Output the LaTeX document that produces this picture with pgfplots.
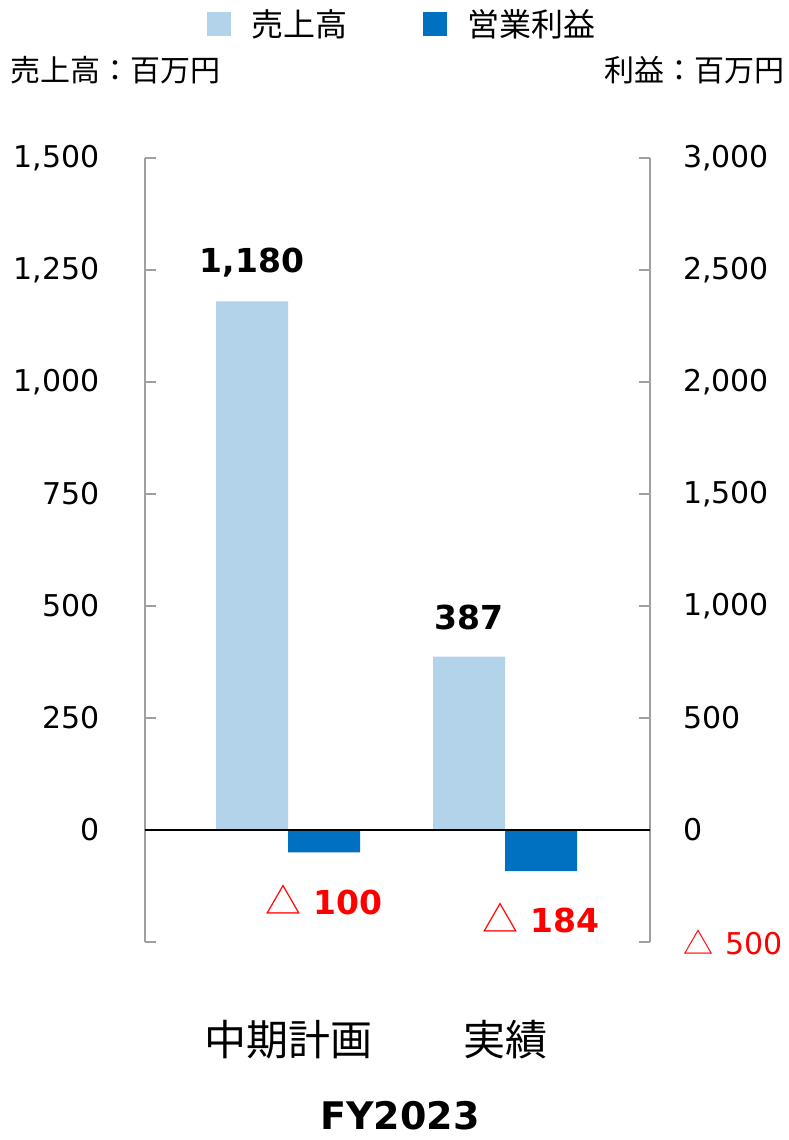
\documentclass[border=0pt]{standalone}
\usepackage{pgfplots}
\pgfplotsset{compat=1.18}
\usepackage{fontspec}
\setmainfont{DejaVu Sans}
\newfontfamily\jp{Noto Sans CJK JP}
\definecolor{lightbar}{HTML}{B3D3EB}
\definecolor{darkbar}{HTML}{0070C0}
\definecolor{axisgray}{HTML}{A0A0A0}
\newcommand{\fs}[1]{\fontsize{#1bp}{#1bp}\selectfont}
\begin{document}
\begin{tikzpicture}
\useasboundingbox (0,0) rectangle (789bp,1140bp);
\pgfplotsset{
  common/.style={
    at={(145bp,198bp)}, anchor=south west,
    scale only axis, width=505bp, height=784bp,
    xmin=-0.659, xmax=1.668,
    ybar, bar width=72bp,
    clip=false,
    tick align=inside,
    major tick length=11bp,
    every tick/.style={axisgray, line width=1.5bp},
    y axis line style={axisgray, line width=1.8bp},
  }
}
\begin{axis}[common,
  ymin=-250, ymax=1500,
  axis y line*=left, axis x line*=bottom,
  tick align=inside,
  x axis line style={draw=none},
  xtick={0,1}, xticklabels={中期計画,実績},
  xtick style={draw=none},
  xticklabel style={font=\jp\fs{42}, anchor=center, yshift=-98bp},
  xlabel={FY2023},
  xlabel style={font=\bfseries\fs{38}, at={(axis description cs:0.505,0)}, anchor=center, yshift=-174bp},
  ytick={-250,0,250,500,750,1000,1250,1500},
  yticklabels={,0,250,500,750,{1,000},{1,250},{1,500}},
  yticklabel style={font=\fs{30}, anchor=east, inner sep=0pt, xshift=-45bp},
  nodes near coords, point meta=explicit symbolic,
  every node near coord/.append style={font=\bfseries\fs{33}, anchor=center, yshift=39bp},
]
\addplot[fill=lightbar, draw=none, bar shift=-36bp] coordinates {(0,1180) [{1,180}] (1,387) [387]};
\node[anchor=west, inner sep=0pt, font=\jp\fs{30}] at (rel axis cs:-0.267,1.112) {売上高：百万円};
\node[anchor=east, inner sep=0pt, font=\jp\fs{30}] at (rel axis cs:1.267,1.112) {利益：百万円};
\end{axis}
\begin{axis}[common,
  ymin=-500, ymax=3000,
  axis y line*=right, axis x line=none,
  tick align=inside,
  ytick={-500,0,500,1000,1500,2000,2500,3000},
  yticklabels={{\color{red}{\jp △}\hspace{12bp}500},0,500,{1,000},{1,500},{2,000},{2,500},{3,000}},
  yticklabel style={font=\fs{30}, anchor=west, inner sep=0pt, xshift=33bp},
  point meta=explicit symbolic,
  nodes near coords={\textcolor{red}{{\jp\mdseries\fs{36}△}\hspace{12bp}{\bfseries\pgfplotspointmeta}}},
  every node near coord/.append style={font=\fs{33}, anchor=center, yshift=-47bp},
  legend image code/.code={\fill[#1] (0bp,-12bp) rectangle (24bp,12bp);},
  legend style={at={(0.507,1.171)}, anchor=center, draw=none, fill=none,
    legend columns=2, font=\jp\fs{32}, inner sep=0pt,
    nodes={inner sep=0pt},
    /tikz/every odd column/.append style={column sep=20bp},
    /tikz/every even column/.append style={column sep=76bp}},
]
\addlegendimage{fill=lightbar, draw=none}
\addlegendentry{売上高}
\addplot[fill=darkbar, draw=none, bar shift=36bp] coordinates {(0,-100) [100] (1,-184) [184]};
\addlegendentry{営業利益}
\draw[black, line width=1.8bp] (axis cs:-0.659,0) -- (axis cs:1.668,0);
\end{axis}
\end{tikzpicture}
\end{document}
